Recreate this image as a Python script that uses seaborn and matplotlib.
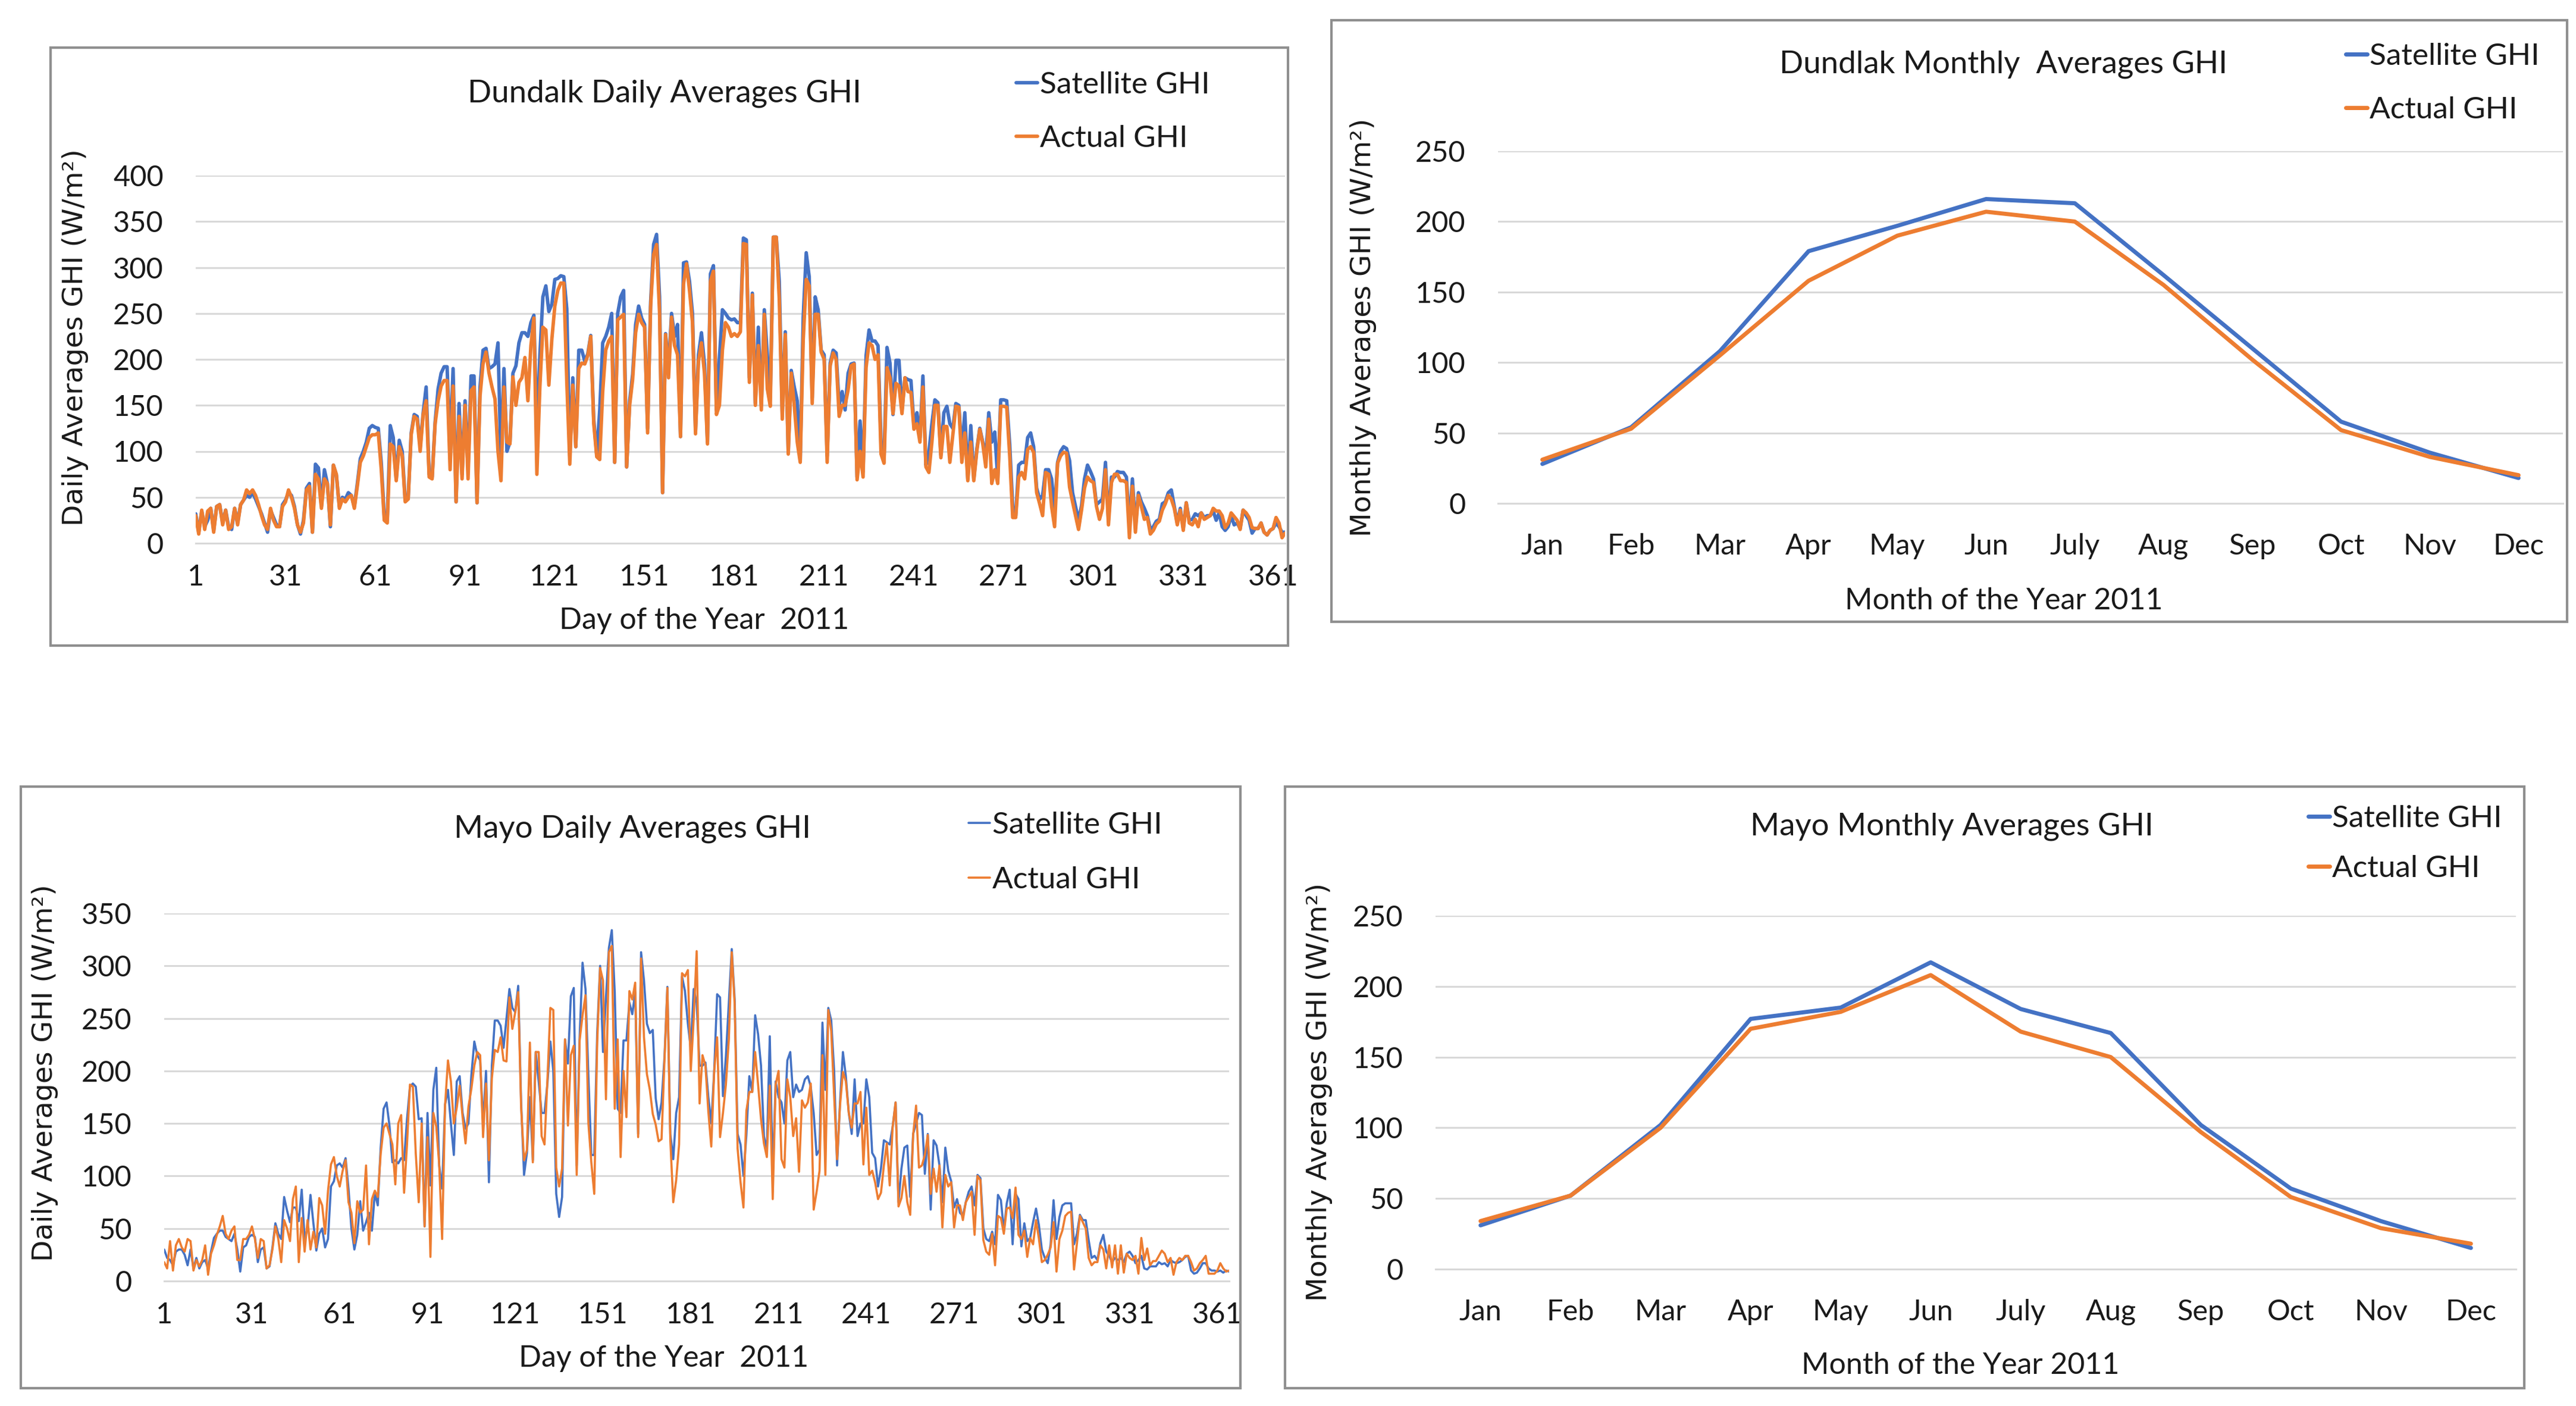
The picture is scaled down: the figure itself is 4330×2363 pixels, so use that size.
import numpy as np
import pandas as pd
import matplotlib
matplotlib.use('Agg')
import matplotlib.pyplot as plt
import seaborn as sns
from matplotlib import font_manager
from matplotlib.patches import Rectangle

# ---------------- data ----------------
dundalk_actual = [
    30, 10, 36, 15, 35, 38, 12, 40, 42, 20,
    36, 15, 18, 38, 20, 42, 47, 58, 54, 58,
    52, 42, 30, 20, 15, 38, 25, 18, 18, 40,
    45, 58, 50, 38, 20, 12, 22, 58, 62, 12,
    75, 70, 38, 70, 65, 20, 85, 75, 38, 48,
    45, 50, 52, 38, 62, 88, 95, 105, 115, 118,
    118, 120, 80, 25, 22, 108, 105, 68, 105, 95,
    45, 48, 118, 138, 135, 100, 140, 155, 72, 70,
    130, 155, 171, 177, 177, 80, 171, 45, 138, 70,
    150, 70, 166, 170, 44, 160, 195, 208, 185, 170,
    157, 100, 68, 170, 110, 108, 181, 150, 175, 180,
    202, 155, 215, 245, 75, 170, 235, 232, 172, 222,
    258, 275, 283, 283, 175, 86, 172, 105, 190, 196,
    195, 204, 225, 130, 94, 91, 165, 210, 220, 225,
    88, 243, 246, 249, 83, 150, 178, 229, 249, 240,
    235, 120, 257, 314, 325, 250, 55, 227, 180, 246,
    215, 205, 116, 282, 304, 275, 240, 119, 198, 218,
    185, 108, 285, 296, 140, 150, 210, 240, 235, 225,
    228, 225, 230, 326, 325, 175, 270, 150, 215, 145,
    249, 168, 149, 333, 333, 265, 135, 227, 97, 185,
    150, 110, 88, 221, 287, 280, 152, 249, 249, 208,
    200, 88, 193, 207, 200, 138, 150, 150, 167, 193,
    195, 69, 100, 72, 191, 218, 215, 200, 205, 97,
    87, 191, 180, 141, 174, 171, 141, 180, 165, 164,
    124, 130, 110, 170, 83, 77, 110, 150, 150, 93,
    127, 127, 88, 118, 149, 148, 88, 120, 68, 110,
    68, 100, 124, 108, 83, 135, 65, 80, 65, 149,
    149, 148, 95, 28, 28, 72, 77, 70, 102, 105,
    99, 55, 43, 30, 77, 75, 40, 18, 87, 95,
    99, 98, 61, 45, 30, 15, 36, 60, 72, 68,
    66, 40, 26, 38, 80, 20, 66, 75, 75, 68,
    68, 66, 6, 62, 12, 52, 40, 26, 28, 10,
    14, 21, 24, 36, 43, 52, 48, 38, 20, 36,
    14, 44, 22, 20, 26, 18, 33, 26, 28, 30,
    38, 35, 35, 30, 17, 22, 33, 29, 25, 15,
    36, 33, 28, 17, 16, 16, 22, 12, 9, 14,
    16, 28, 22, 6, 11,
]
dundalk_satellite = [
    32, 12, 35, 18, 25, 38, 14, 40, 42, 22,
    36, 18, 15, 38, 22, 42, 47, 52, 50, 55,
    48, 40, 32, 22, 12, 36, 28, 20, 18, 42,
    47, 55, 52, 40, 20, 10, 25, 60, 65, 12,
    86, 82, 40, 80, 65, 18, 85, 74, 40, 50,
    48, 55, 52, 40, 65, 92, 100, 110, 125, 128,
    126, 125, 88, 30, 25, 128, 115, 70, 112, 100,
    47, 50, 120, 140, 138, 105, 142, 170, 75, 72,
    132, 168, 185, 192, 192, 105, 190, 45, 152, 75,
    155, 80, 182, 182, 44, 170, 210, 212, 190, 192,
    195, 218, 90, 190, 100, 110, 185, 193, 218, 229,
    229, 225, 240, 248, 120, 205, 268, 280, 252, 260,
    287, 288, 291, 290, 255, 95, 180, 105, 210, 210,
    198, 206, 226, 135, 96, 145, 218, 225, 235, 250,
    88, 250, 268, 275, 83, 155, 184, 238, 258, 245,
    238, 125, 262, 325, 336, 268, 55, 228, 190, 250,
    225, 238, 116, 305, 306, 285, 250, 122, 205, 229,
    195, 110, 293, 302, 145, 202, 254, 250, 245, 243,
    244, 240, 240, 332, 330, 180, 272, 152, 235, 150,
    254, 205, 160, 333, 333, 285, 140, 230, 100, 188,
    170, 155, 90, 246, 316, 290, 158, 268, 254, 210,
    205, 95, 196, 210, 207, 150, 165, 145, 185, 195,
    196, 72, 133, 78, 204, 232, 220, 220, 215, 110,
    92, 213, 196, 140, 199, 199, 145, 180, 178, 177,
    128, 142, 115, 182, 85, 99, 130, 156, 153, 96,
    142, 149, 130, 125, 152, 150, 100, 142, 70, 128,
    70, 102, 125, 110, 95, 142, 110, 121, 70, 156,
    156, 155, 108, 40, 30, 85, 88, 88, 115, 120,
    105, 60, 48, 52, 80, 80, 70, 35, 88, 100,
    105, 103, 90, 55, 40, 25, 41, 70, 85, 78,
    70, 42, 45, 48, 88, 25, 72, 72, 78, 77,
    77, 72, 20, 70, 18, 55, 45, 38, 30, 15,
    18, 24, 26, 43, 45, 55, 58, 40, 22, 38,
    16, 44, 25, 26, 32, 30, 33, 28, 30, 30,
    35, 25, 33, 18, 14, 18, 30, 20, 22, 16,
    36, 30, 25, 11, 16, 16, 22, 12, 9, 14,
    16, 22, 18, 12, 12,
]
mayo_actual = [
    18, 12, 38, 10, 34, 40, 32, 28, 40, 38,
    10, 20, 14, 20, 34, 6, 26, 34, 44, 52,
    62, 45, 40, 48, 52, 20, 20, 40, 40, 44,
    52, 40, 22, 40, 38, 12, 15, 30, 52, 40,
    18, 58, 50, 38, 78, 90, 18, 60, 28, 58,
    30, 47, 32, 79, 72, 45, 86, 111, 118, 100,
    90, 105, 115, 75, 65, 36, 76, 65, 68, 110,
    35, 78, 86, 80, 121, 146, 150, 140, 130, 92,
    150, 158, 84, 130, 187, 185, 121, 75, 150, 52,
    137, 23, 160, 147, 111, 40, 167, 210, 190, 150,
    165, 186, 156, 131, 166, 183, 205, 218, 215, 137,
    188, 115, 193, 220, 218, 232, 210, 209, 270, 240,
    256, 275, 165, 115, 125, 227, 113, 218, 218, 138,
    130, 192, 260, 258, 108, 90, 107, 230, 148, 215,
    224, 101, 229, 253, 272, 150, 113, 83, 227, 298,
    286, 173, 313, 319, 164, 230, 118, 200, 156, 276,
    268, 284, 137, 307, 232, 197, 182, 159, 149, 133,
    135, 210, 279, 134, 75, 96, 130, 293, 290, 296,
    200, 250, 314, 169, 215, 205, 161, 128, 200, 232,
    137, 160, 187, 230, 313, 263, 126, 94, 70, 162,
    180, 180, 218, 187, 154, 131, 118, 186, 78, 187,
    200, 116, 108, 192, 175, 138, 155, 104, 172, 165,
    170, 188, 68, 85, 105, 215, 101, 258, 238, 176,
    116, 167, 199, 190, 160, 146, 169, 169, 180, 111,
    165, 101, 105, 94, 78, 84, 110, 131, 91, 147,
    170, 71, 79, 100, 75, 63, 139, 167, 108, 110,
    120, 139, 83, 107, 85, 110, 51, 101, 90, 94,
    51, 72, 72, 58, 75, 80, 85, 44, 100, 96,
    39, 28, 25, 45, 15, 62, 60, 45, 69, 70,
    60, 89, 44, 40, 48, 23, 41, 35, 58, 40,
    18, 20, 25, 32, 56, 9, 40, 48, 62, 65,
    66, 11, 36, 62, 56, 50, 22, 15, 18, 18,
    34, 30, 12, 34, 13, 34, 7, 34, 8, 26,
    22, 20, 24, 7, 41, 20, 31, 15, 19, 19,
    24, 29, 26, 18, 22, 6, 18, 22, 20, 24,
    24, 18, 10, 12, 17, 20, 24, 7, 7, 7,
    10, 17, 12, 9, 10,
]
mayo_satellite = [
    30, 22, 20, 15, 28, 30, 30, 25, 15, 30,
    12, 22, 12, 18, 20, 12, 28, 41, 45, 48,
    48, 42, 40, 38, 45, 30, 9, 32, 34, 42,
    44, 42, 18, 30, 32, 12, 14, 32, 55, 45,
    40, 80, 67, 56, 70, 70, 57, 87, 40, 50,
    82, 55, 29, 45, 50, 32, 40, 90, 95, 110,
    112, 108, 117, 88, 50, 30, 44, 76, 48, 56,
    65, 48, 84, 72, 127, 164, 170, 148, 113, 115,
    112, 117, 115, 154, 185, 188, 185, 154, 155, 52,
    160, 91, 182, 203, 110, 88, 168, 182, 150, 120,
    190, 195, 160, 145, 150, 196, 228, 215, 210, 150,
    200, 94, 205, 248, 248, 243, 222, 250, 278, 260,
    256, 281, 170, 101, 122, 175, 115, 218, 190, 160,
    160, 188, 228, 200, 83, 61, 80, 230, 207, 271,
    279, 110, 232, 303, 278, 195, 120, 120, 236, 300,
    218, 270, 317, 334, 275, 164, 160, 229, 229, 265,
    254, 275, 140, 313, 286, 245, 236, 239, 174, 154,
    170, 213, 280, 140, 116, 160, 175, 290, 276, 245,
    221, 278, 265, 205, 205, 208, 175, 150, 200, 273,
    270, 176, 214, 265, 316, 268, 140, 130, 100, 139,
    195, 180, 253, 235, 205, 138, 125, 233, 100, 190,
    175, 170, 150, 210, 218, 175, 187, 180, 182, 192,
    195, 185, 160, 120, 125, 246, 182, 260, 248, 200,
    110, 170, 218, 195, 160, 140, 192, 138, 150, 150,
    192, 175, 122, 117, 90, 107, 134, 132, 130, 147,
    170, 75, 107, 127, 129, 80, 140, 150, 160, 158,
    102, 140, 68, 134, 129, 110, 75, 127, 105, 95,
    70, 78, 65, 62, 75, 85, 90, 72, 101, 98,
    50, 40, 38, 47, 35, 82, 77, 48, 74, 87,
    35, 83, 78, 33, 55, 38, 41, 56, 69, 53,
    30, 22, 17, 35, 77, 40, 61, 72, 74, 74,
    74, 35, 45, 63, 58, 58, 39, 22, 24, 20,
    36, 44, 28, 24, 18, 22, 20, 22, 18, 26,
    28, 24, 17, 20, 24, 12, 11, 14, 14, 14,
    18, 16, 17, 14, 20, 18, 17, 18, 20, 23,
    24, 10, 7, 8, 12, 17, 17, 12, 10, 10,
    9, 10, 8, 10, 9,
]

months = ['Jan', 'Feb', 'Mar', 'Apr', 'May', 'Jun', 'July', 'Aug', 'Sep', 'Oct', 'Nov', 'Dec']
dundalk_month_satellite = [28, 54, 108, 179, 197, 216, 213, 162, 110, 58, 36, 18]
dundalk_month_actual = [31, 53, 105, 158, 190, 207, 200, 155, 102, 52, 33, 20]
mayo_month_satellite = [31, 52, 102, 177, 185, 217, 184, 167, 102, 57, 34, 15]
mayo_month_actual = [34, 52, 100, 170, 182, 208, 168, 150, 97, 51, 29, 18]

day_tick_labels = [1, 31, 61, 91, 121, 151, 181, 211, 241, 271, 301, 331, 361]

# ---------------- style ----------------
sns.set_theme(style='white')
avail = {f.name for f in font_manager.fontManager.ttflist}
MAIN = 'Lato' if 'Lato' in avail else 'DejaVu Sans'
plt.rcParams['font.family'] = [MAIN, 'DejaVu Sans']

BLUE = '#4472C4'
ORANGE = '#ED7D31'
GRID = '#d9d9d9'
TXT = '#1a1a1a'
FRAME = '#8f8f8f'

W, H = 4330, 2363
fig = plt.figure(figsize=(W / 100, H / 100), dpi=100)
fig.patch.set_facecolor('white')


def fx(px):
    return px / W


def fy(py):
    return 1 - py / H


def axes_px(l, r, t, b):
    return fig.add_axes([fx(l), fy(b), fx(r) - fx(l), fy(t) - fy(b)])


def frame(l, r, t, b):
    fig.patches.append(Rectangle((fx(l), fy(b)), fx(r) - fx(l), fy(t) - fy(b),
                                 transform=fig.transFigure, fill=False,
                                 edgecolor=FRAME, linewidth=3, zorder=0))


TICK_FS = 35
TITLE_FS = 38
LEG_FS = 37
XL_FS = 36
YL_FS = 34


def style_common(ax, ymax):
    ax.set_ylim(0, ymax)
    ax.set_yticks(np.arange(0, ymax + 1, 50))
    for s in ['top', 'right', 'left']:
        ax.spines[s].set_visible(False)
    ax.spines['bottom'].set_color(GRID)
    ax.spines['bottom'].set_linewidth(2.2)
    ax.yaxis.grid(True, color=GRID, linewidth=2.2)
    ax.xaxis.grid(False)
    ax.set_axisbelow(True)
    ax.tick_params(axis='y', length=0, pad=39, labelsize=TICK_FS, labelcolor=TXT)
    ax.set_xlabel('')
    ax.set_ylabel('')
    ax.set_facecolor('white')


def legend(ax, x_px, yc_px, spacing):
    ax.legend(loc='center left', bbox_to_anchor=(fx(x_px), fy(yc_px)),
              bbox_transform=fig.transFigure, frameon=False, fontsize=LEG_FS,
              handlelength=0.7, handletextpad=0.08, labelspacing=spacing,
              borderpad=0, borderaxespad=0, labelcolor=TXT)


def daily_panel(box, sat, act, ymax, lw, title, tpos, xlpos, ylpos, legpos):
    ax = axes_px(*box)
    sns.lineplot(x=np.arange(1, len(sat) + 1), y=np.array(sat, float), color=BLUE,
                 linewidth=lw, ax=ax, label='Satellite GHI')
    sns.lineplot(x=np.arange(1, len(act) + 1), y=np.array(act, float), color=ORANGE,
                 linewidth=lw, ax=ax, label='Actual GHI')
    ax.set_xlim(1, 365)
    style_common(ax, ymax)
    ax.set_xticks(day_tick_labels)
    ax.set_xticklabels([str(d) for d in day_tick_labels])
    ax.tick_params(axis='x', length=11, width=2.2, color=GRID, pad=14,
                   labelsize=TICK_FS, labelcolor=TXT, direction='out')
    legend(ax, *legpos)
    fig.text(fx(tpos[0]), fy(tpos[1]), title, ha='center', va='center',
             fontsize=TITLE_FS, color=TXT)
    fig.text(fx(xlpos[0]), fy(xlpos[1]), 'Day of the Year  2011', ha='center',
             va='center', fontsize=XL_FS, color=TXT)
    fig.text(fx(ylpos[0]), fy(ylpos[1]), 'Daily Averages GHI (W/m\u00b2)', ha='center',
             va='center', rotation=90, fontsize=YL_FS, color=TXT, family='DejaVu Sans')
    return ax


def monthly_panel(box, sat, act, title, tpos, xlpos, ylpos, legpos):
    ax = axes_px(*box)
    df = pd.DataFrame({'m': np.arange(len(months)), 'sat': sat, 'act': act})
    sns.lineplot(data=df, x='m', y='sat', color=BLUE, linewidth=5, ax=ax,
                 label='Satellite GHI')
    sns.lineplot(data=df, x='m', y='act', color=ORANGE, linewidth=5, ax=ax,
                 label='Actual GHI')
    ax.set_xlim(-0.5, len(months) - 0.5)
    style_common(ax, 250)
    ax.set_xticks(np.arange(len(months)))
    ax.set_xticklabels(months)
    ax.tick_params(axis='x', length=0, pad=36, labelsize=TICK_FS, labelcolor=TXT)
    legend(ax, *legpos)
    fig.text(fx(tpos[0]), fy(tpos[1]), title, ha='center', va='center',
             fontsize=TITLE_FS, color=TXT)
    fig.text(fx(xlpos[0]), fy(xlpos[1]), 'Month of the Year 2011', ha='center',
             va='center', fontsize=XL_FS, color=TXT)
    fig.text(fx(ylpos[0]), fy(ylpos[1]), 'Monthly Averages GHI (W/m\u00b2)', ha='center',
             va='center', rotation=90, fontsize=YL_FS, color=TXT, family='DejaVu Sans')
    return ax


# frames (chart areas)
frame(85, 2165, 80, 1085)
frame(2238, 4315, 34, 1045)
frame(35, 2085, 1322, 2333)
frame(2160, 4243, 1322, 2333)

daily_panel((329, 2160, 295, 913), dundalk_satellite, dundalk_actual, 400, 4.2,
            'Dundalk Daily Averages GHI', (1117, 157), (1184, 1043), (127, 567),
            (1708, 188, 0.85))
monthly_panel((2518, 4308, 254, 846), dundalk_month_satellite, dundalk_month_actual,
              'Dundlak Monthly  Averages GHI', (3368, 108), (3368, 1010), (2291, 550),
              (3943, 140, 0.85))
daily_panel((276, 2066, 1535, 2153), mayo_satellite, mayo_actual, 350, 2.6,
            'Mayo Daily Averages GHI', (1063, 1393), (1116, 2283), (76, 1803),
            (1628, 1433, 0.9))
monthly_panel((2413, 4229, 1539, 2133), mayo_month_satellite, mayo_month_actual,
              'Mayo Monthly Averages GHI', (3281, 1389), (3295, 2295), (2218, 1835),
              (3880, 1418, 0.75))

fig.savefig('out.png', dpi=100, facecolor='white')
